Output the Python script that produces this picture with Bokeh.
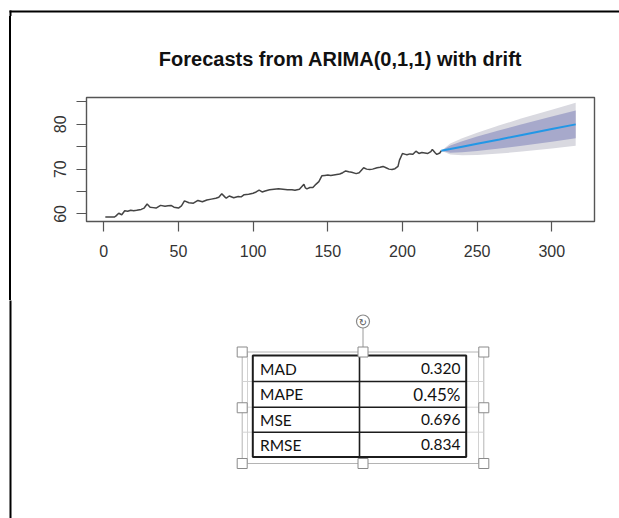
from bokeh.plotting import figure
from bokeh.layouts import column, row
from bokeh.models import Range1d, FixedTicker, ColumnDataSource, Div, GlobalInlineStyleSheet
from bokeh.core.properties import value
from bokeh.embed import file_html
from bokeh.resources import INLINE

# ---------------- data ----------------
title_text = "Forecasts from ARIMA(0,1,1) with drift"

hist_x = [1, 4, 7, 8, 10, 12, 14, 16, 18, 20, 22, 25, 27, 29, 31, 33, 35, 38, 41, 43,
          45, 47, 50, 52, 54, 57, 60, 63, 66, 69, 72, 75, 77, 79, 81, 82, 84, 87, 90, 92,
          94, 97, 100, 102, 104, 106, 108, 111, 114, 117, 120, 123, 126, 128, 131, 134, 135,
          136, 138, 140, 142, 144, 146, 148, 150, 152, 154, 156, 158, 160, 162, 164, 166, 169,
          171, 174, 176, 178, 180, 183, 185, 187, 189, 191, 193, 195, 197, 198, 200, 202, 203,
          205, 207, 209, 211, 213, 215, 217, 219, 220, 222, 223, 225, 226]
hist_y = [59.3, 59.3, 59.3, 59.5, 60.15, 59.8, 60.7, 60.6, 60.8, 60.7, 60.8, 61.0, 61.3, 62.2,
          61.5, 61.4, 61.3, 61.9, 61.7, 61.8, 61.9, 61.5, 61.3, 61.8, 62.9, 62.5, 62.4, 63.0,
          62.7, 63.1, 63.3, 63.5, 63.7, 64.5, 63.8, 63.5, 64.0, 63.6, 63.9, 63.8, 64.3, 64.4,
          64.6, 64.9, 65.3, 64.9, 65.1, 65.4, 65.5, 65.6, 65.5, 65.4, 65.4, 65.3, 65.5, 66.6,
          65.8, 65.6, 65.9, 65.9, 66.6, 67.2, 68.5, 68.6, 68.7, 68.6, 68.7, 68.8, 68.9, 69.2,
          69.6, 69.4, 69.3, 69.0, 69.2, 70.3, 70.0, 69.9, 70.0, 70.3, 70.4, 70.6, 70.3, 70.0,
          69.9, 70.1, 70.6, 72.0, 73.5, 73.3, 73.2, 73.4, 73.3, 74.0, 73.5, 73.7, 73.6, 73.5,
          73.9, 74.4, 73.6, 73.3, 73.6, 74.1]

fc_x = [226, 232, 240, 250, 265, 280, 300, 316]
fc_mean = [74.1, 74.48, 75.0, 75.66, 76.64, 77.63, 78.94, 80.0]
fc_lo80 = [74.1, 73.68, 73.78, 74.06, 74.60, 75.23, 76.13, 76.9]
fc_hi80 = [74.1, 75.28, 76.22, 77.26, 78.68, 80.03, 81.75, 83.1]
fc_lo95 = [74.1, 73.24, 73.11, 73.18, 73.48, 73.91, 74.59, 75.2]
fc_hi95 = [74.1, 75.72, 76.89, 78.14, 79.80, 81.35, 83.29, 84.8]

x_ticks = [0, 50, 100, 150, 200, 250, 300]
y_ticks = [60, 65, 70, 75, 80, 85]
y_tick_labels = {60: "60", 65: "", 70: "70", 75: "", 80: "80", 85: ""}

metric_names = ["MAD", "MAPE", "MSE", "RMSE"]
metric_values = ["0.320", "0.45%", "0.696", "0.834"]

# ---------------- layout constants ----------------
W, H = 619, 518
TOP_H = 16
CHART_BOTTOM = 300
CHART_H = CHART_BOTTOM - TOP_H
LEFT_W = 20
FRAME_TOP = 97      # page y of plot box top
FRAME_BOT = 221     # page y of plot box bottom


def blank(w, h, x0, x1, y0, y1):
    """Axis-less figure whose data coordinates are page pixels (y grows downward)."""
    f = figure(width=w, height=h, x_range=Range1d(x0, x1), y_range=Range1d(y1, y0),
               output_backend="svg", toolbar_location=None, tools="",
               x_axis_type=None, y_axis_type=None, min_border=0)
    f.min_border_left = f.min_border_right = f.min_border_top = f.min_border_bottom = 0
    f.outline_line_color = None
    f.background_fill_color = "white"
    f.border_fill_color = "white"
    return f


# top strip: horizontal frame line drawn with a single quad
top = blank(W, TOP_H, 0, W, 0, TOP_H)
top.quad(left=[9], right=[W + 5], top=[10], bottom=[12], fill_color="#000000", line_color=None)
top.quad(left=[9], right=[11], top=[10], bottom=[TOP_H + 2], fill_color="#000000", line_color=None)

# left strip beside the chart (HTML block, so no plot-frame alignment)
left = Div(width=LEFT_W, height=CHART_H, margin=(0, 0, 0, 0),
           text='<div style="margin:0;padding:0;position:relative;width:%dpx;height:%dpx;overflow:hidden;">'
                '<div style="position:absolute;left:9px;top:0px;width:2px;height:%dpx;background:#000;"></div>'
                '</div>' % (LEFT_W, CHART_H, CHART_H))

# ---------------- chart ----------------
p = figure(width=W - LEFT_W, height=CHART_H,
           x_range=Range1d(-11.6, 328.6), y_range=Range1d(58.3, 86.0),
           output_backend="svg", toolbar_location=None, tools="",
           title=title_text,
           min_border_left=66, min_border_right=25,
           min_border_top=FRAME_TOP - TOP_H, min_border_bottom=CHART_BOTTOM - FRAME_BOT)
p.background_fill_color = "white"
p.border_fill_color = "white"
p.grid.visible = False
p.outline_line_color = "#555555"
p.outline_line_width = 1.4

p.title.align = "center"
p.title.text_font = "Liberation Sans"
p.title.text_font_size = "20px"
p.title.text_font_style = "bold"
p.title.text_color = "#111111"
p.title.standoff = 56

for ax in (p.xaxis[0], p.yaxis[0]):
    ax.axis_line_color = None
    ax.major_tick_in = 0
    ax.major_tick_out = 10
    ax.major_tick_line_color = "#555555"
    ax.major_tick_line_width = 1.2
    ax.minor_tick_line_color = None
    ax.major_label_text_font = "Liberation Sans"
    ax.major_label_text_font_size = "16px"
    ax.major_label_text_color = "#333333"

p.xaxis.ticker = FixedTicker(ticks=x_ticks)
p.xaxis.major_label_standoff = 13
p.yaxis.ticker = FixedTicker(ticks=y_ticks)
p.yaxis.major_label_overrides = y_tick_labels
p.yaxis.major_label_orientation = "vertical"
p.yaxis.major_label_standoff = 10

fc = ColumnDataSource(dict(x=fc_x, mean=fc_mean, lo80=fc_lo80, hi80=fc_hi80,
                           lo95=fc_lo95, hi95=fc_hi95))
p.varea(x="x", y1="lo95", y2="hi95", source=fc, fill_color="#D9D9E0")
p.varea(x="x", y1="lo80", y2="hi80", source=fc, fill_color="#A7A9CB")
p.line(hist_x, hist_y, line_color="#444444", line_width=1.5)
p.line(x="x", y="mean", source=fc, line_color="#2297E6", line_width=2)

# ---------------- table area ----------------
B_TOP = CHART_BOTTOM
bot = blank(W, H - B_TOP, 0, W, B_TOP, H)
bot.quad(left=[9], right=[11], top=[B_TOP - 2], bottom=[H + 2], fill_color="#000000", line_color=None)

t_left, t_right, t_top, t_bot = 252.3, 465.7, 355.0, 456.5
col_x = 359.0
row_edges = [t_top, 381.0, 406.7, 431.7, t_bot]

# selection frame + faint gridlines
sx0, sx1, sy0, sy1 = 241.7, 483.3, 351.5, 463.0
bot.quad(left=[sx0], right=[sx1], top=[sy0], bottom=[sy1], fill_color=None,
         line_color="#b4b4b4", line_width=1)
bot.segment(x0=[247.0, 478.0], y0=[sy0, sy0], x1=[247.0, 478.0], y1=[sy1, sy1],
            line_color="#d2d2d2", line_width=1)
for ye in row_edges[1:-1]:
    bot.segment(x0=[sx0, t_right], y0=[ye, ye], x1=[t_left, sx1], y1=[ye, ye],
                line_color="#d2d2d2", line_width=1)

# table lines
bot.segment(x0=[t_left] * 3, y0=row_edges[1:-1], x1=[t_right] * 3, y1=row_edges[1:-1],
            line_color="#1c1c1c", line_width=1.6)
bot.segment(x0=[col_x], y0=[t_top], x1=[col_x], y1=[t_bot], line_color="#1c1c1c", line_width=1.6)
bot.quad(left=[t_left], right=[t_right], top=[t_top], bottom=[t_bot], fill_color=None,
         line_color="#1c1c1c", line_width=2)

row_centers = [(row_edges[i] + row_edges[i + 1]) / 2 for i in range(len(metric_names))]
bot.text(x=[259.5] * len(metric_names), y=row_centers, text=metric_names,
         text_font=value("Lato"), text_font_size="15.5px", text_color="#111111",
         text_align="left", text_baseline="middle")
val_sizes = ["17px" if "%" in v else "15.5px" for v in metric_values]
bot.text(x=[460.0] * len(metric_values), y=row_centers, text=metric_values,
         text_font=value("Lato"), text_font_size=val_sizes, text_color="#111111",
         text_align="right", text_baseline="middle")

# rotation handle
mx = (sx0 + sx1) / 2
bot.segment(x0=[mx], y0=[327.5], x1=[mx], y1=[sy0 - 5], line_color="#9a9a9a", line_width=1)
bot.scatter(x=[mx], y=[321.0], size=13, marker="circle", fill_color="white",
            line_color="#8a8a8a", line_width=1.2)
bot.text(x=[mx], y=[321.5], text=["\u21bb"], text_font=value("DejaVu Sans"),
         text_font_size="10px", text_color="#555555", text_align="center",
         text_baseline="middle")

# resize handles
hx = [sx0, mx, sx1, sx0, sx1, sx0, mx, sx1]
hy = [sy0, sy0, sy0, (sy0 + sy1) / 2, (sy0 + sy1) / 2, sy1, sy1, sy1]
bot.quad(left=[x - 5 for x in hx], right=[x + 5 for x in hx],
         top=[y - 5 for y in hy], bottom=[y + 5 for y in hy],
         fill_color="white", line_color="#8a8a8a", line_width=1)

root = column(top, row(left, p), bot,
              stylesheets=[GlobalInlineStyleSheet(css="html, body { margin: 0; padding: 0; overflow: hidden; }")])
open("out.html", "w").write(file_html(root, INLINE))
